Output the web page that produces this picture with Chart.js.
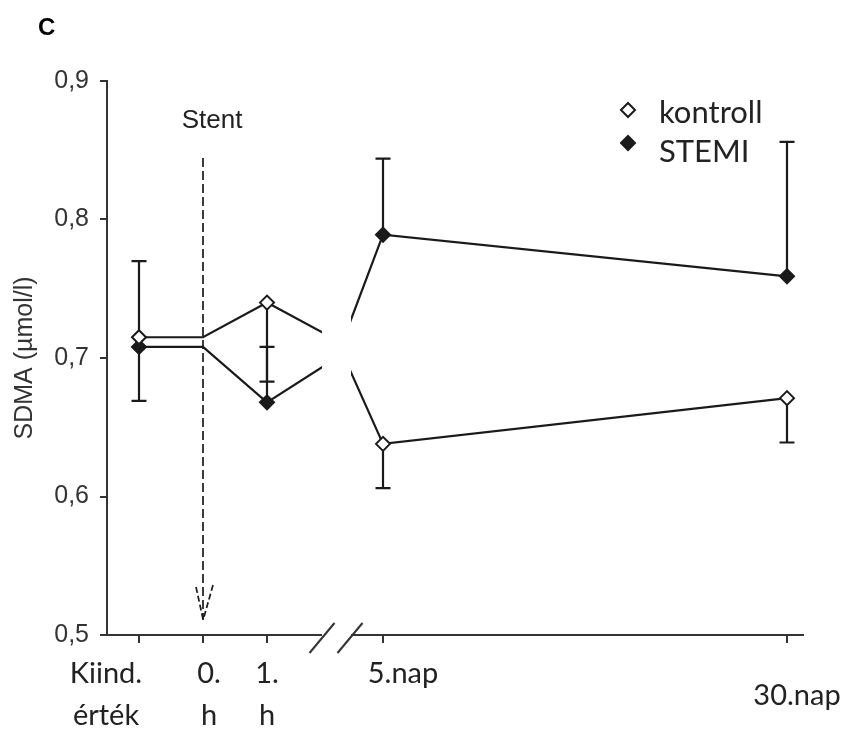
<!DOCTYPE html>
<html>
<head>
<meta charset="utf-8">
<script src="https://cdn.jsdelivr.net/npm/chart.js@4.4.1/dist/chart.umd.min.js"></script>
<style>
  html, body { margin: 0; padding: 0; background: #fff; }
  #wrap { width: 852px; height: 731px; position: relative; }
</style>
</head>
<body>
<div id="wrap"><canvas id="c" width="852" height="731"></canvas></div>
<script>
// Time points along the x axis
const timeLabels = [['Kiind.', 'érték'], ['0.', 'h'], ['1.', 'h'], ['5.nap'], ['30.nap']];
// Position of each time point on the (non-linear, broken) x scale
const slotPos = [0, 1, 2, 3.8125, 10.125];
// Point inside the axis break where both lines converge
const breakPos = 3.086;

// SDMA means (µmol/l)
const kontrollMean = [0.715, 0.715, 0.740, 0.638, 0.671];
const stemiMean    = [0.708, 0.708, 0.668, 0.789, 0.759];
// Line values at the break point
const kontrollBreak = 0.713;
const stemiBreak    = 0.700;

// Error bar end values (null = no bar)
const kontrollErrEnd = [0.770, null, 0.683, 0.606, 0.639];
const stemiErrEnd    = [0.669, null, 0.708, 0.844, 0.856];

// Y axis ticks
const yTicks = [0.5, 0.6, 0.7, 0.8, 0.9];

const INK = '#1a1a1a';
const AXIS = '#333';

function withBreak(means, breakVal) {
  const pts = means.map((v, i) => ({ x: slotPos[i], y: v }));
  pts.splice(3, 0, { x: breakPos, y: breakVal });
  return pts;
}
// markers only at measured points (not at 0. h nor at the break point)
const markerRadius = [7, 0, 7, 0, 7, 7];

const errorBars = {
  id: 'errorBars',
  beforeDatasetsDraw(chart) {
    const { ctx, scales: { x, y } } = chart;
    ctx.save();
    ctx.strokeStyle = INK;
    ctx.lineWidth = 2.2;
    [[kontrollMean, kontrollErrEnd], [stemiMean, stemiErrEnd]].forEach(([m, e]) => {
      m.forEach((v, i) => {
        if (e[i] == null) return;
        const px = x.getPixelForValue(slotPos[i]);
        const p0 = y.getPixelForValue(v);
        const p1 = y.getPixelForValue(e[i]);
        ctx.beginPath();
        ctx.moveTo(px, p0); ctx.lineTo(px, p1);
        ctx.moveTo(px - 7.5, p1); ctx.lineTo(px + 7.5, p1);
        ctx.stroke();
      });
    });
    ctx.restore();
  }
};

const decorations = {
  id: 'decorations',
  afterDatasetsDraw(chart) {
    const { ctx, chartArea, scales: { x } } = chart;
    const bx = x.getPixelForValue(breakPos);
    const base = chartArea.bottom;
    ctx.save();
    // axis break: hide lines and axis inside the gap
    ctx.fillStyle = '#fff';
    ctx.fillRect(bx - 14.5, chartArea.top, 29, base - chartArea.top + 3);
    // break slashes
    ctx.strokeStyle = AXIS;
    ctx.lineWidth = 2;
    [-14.5, 13.5].forEach(off => {
      const cx = bx + off;
      ctx.beginPath();
      ctx.moveTo(cx - 12.5, base + 18);
      ctx.lineTo(cx + 12.5, base - 12);
      ctx.stroke();
    });

    // Stent marker: dashed arrow at 0. h
    const sx = x.getPixelForValue(slotPos[1]);
    ctx.strokeStyle = INK;
    ctx.lineWidth = 1.7;
    ctx.setLineDash([9, 4]);
    ctx.beginPath();
    ctx.moveTo(sx, 158);
    ctx.lineTo(sx, 620);
    ctx.stroke();
    ctx.setLineDash([6, 3]);
    ctx.beginPath();
    ctx.moveTo(sx - 7, 587); ctx.lineTo(sx, 619);
    ctx.moveTo(sx + 10, 585); ctx.lineTo(sx + 1, 617);
    ctx.stroke();
    ctx.setLineDash([]);
    ctx.restore();
  },
  afterDraw(chart) {
    const { ctx, scales: { x } } = chart;
    ctx.save();
    ctx.fillStyle = '#000';
    ctx.textBaseline = 'alphabetic';

    // panel letter
    ctx.font = 'bold 24px "Liberation Sans"';
    ctx.textAlign = 'left';
    ctx.fillText('C', 38, 35);

    // Stent caption
    ctx.fillStyle = '#222';
    ctx.font = '26px "Liberation Sans"';
    ctx.textAlign = 'center';
    ctx.fillText('Stent', 212, 128);

    // x tick labels
    ctx.fillStyle = '#222';
    ctx.font = '29px Lato';
    const dx = [-33, 6, 0, 20, 10];
    timeLabels.forEach((lines, i) => {
      const px = x.getPixelForValue(slotPos[i]) + dx[i];
      if (i === 4) {
        ctx.fillText(lines[0], px, 705);
      } else {
        lines.forEach((t, j) => ctx.fillText(t, px, j === 0 ? 683 : 725));
      }
    });

    // legend
    const mk = [{ fill: '#fff', y: 110, text: 'kontroll', base: 123 },
                { fill: INK, y: 143, text: 'STEMI', base: 162 }];
    ctx.font = '31px Lato';
    ctx.textAlign = 'left';
    mk.forEach(m => {
      ctx.fillStyle = m.fill;
      ctx.strokeStyle = INK;
      ctx.lineWidth = 2;
      Chart.helpers.drawPoint(ctx, { pointStyle: 'rectRot', radius: 7, rotation: 0, borderWidth: 2 }, 628, m.y);
      ctx.fillStyle = '#222';
      ctx.fillText(m.text, 659, m.base);
    });
    ctx.restore();
  }
};

new Chart(document.getElementById('c'), {
  type: 'line',
  data: {
    datasets: [
      {
        label: 'kontroll',
        data: withBreak(kontrollMean, kontrollBreak),
        borderColor: INK, borderWidth: 2.2,
        pointStyle: 'rectRot', pointRadius: markerRadius,
        pointBackgroundColor: '#fff', pointBorderColor: INK, pointBorderWidth: 2,
        tension: 0
      },
      {
        label: 'STEMI',
        data: withBreak(stemiMean, stemiBreak),
        borderColor: INK, borderWidth: 2.2,
        pointStyle: 'rectRot', pointRadius: markerRadius,
        pointBackgroundColor: INK, pointBorderColor: INK, pointBorderWidth: 2,
        tension: 0
      }
    ]
  },
  options: {
    responsive: false,
    animation: false,
    devicePixelRatio: 1,
    layout: { padding: { left: 0, top: 81, right: 49, bottom: 0 } },
    plugins: { legend: { display: false }, tooltip: { enabled: false } },
    scales: {
      x: {
        type: 'linear',
        min: -0.5, max: 10.375,
        afterBuildTicks(scale) { scale.ticks = slotPos.map(v => ({ value: v })); },
        afterFit(scale) { scale.height = 96; },
        ticks: { display: false },
        grid: { display: true, drawOnChartArea: false, drawTicks: true, tickLength: 8, color: AXIS, lineWidth: 2 },
        border: { display: true, color: AXIS, width: 2 }
      },
      y: {
        type: 'linear',
        min: 0.5, max: 0.9,
        afterBuildTicks(scale) { scale.ticks = yTicks.map(v => ({ value: v })); },
        afterFit(scale) { scale.width = 107; },
        ticks: {
          padding: 11,
          color: '#333',
          font: { family: '"Liberation Sans"', size: 25 },
          callback: v => v.toFixed(1).replace('.', ',')
        },
        grid: { display: true, drawOnChartArea: false, drawTicks: true, tickLength: 7, color: AXIS, lineWidth: 2 },
        border: { display: true, color: AXIS, width: 2 },
        title: {
          display: true,
          text: 'SDMA (µmol/l)',
          color: '#333',
          font: { family: '"Liberation Sans"', size: 25 },
          padding: { top: 10, bottom: 0 }
        }
      }
    }
  },
  plugins: [errorBars, decorations]
});
</script>
</body>
</html>
